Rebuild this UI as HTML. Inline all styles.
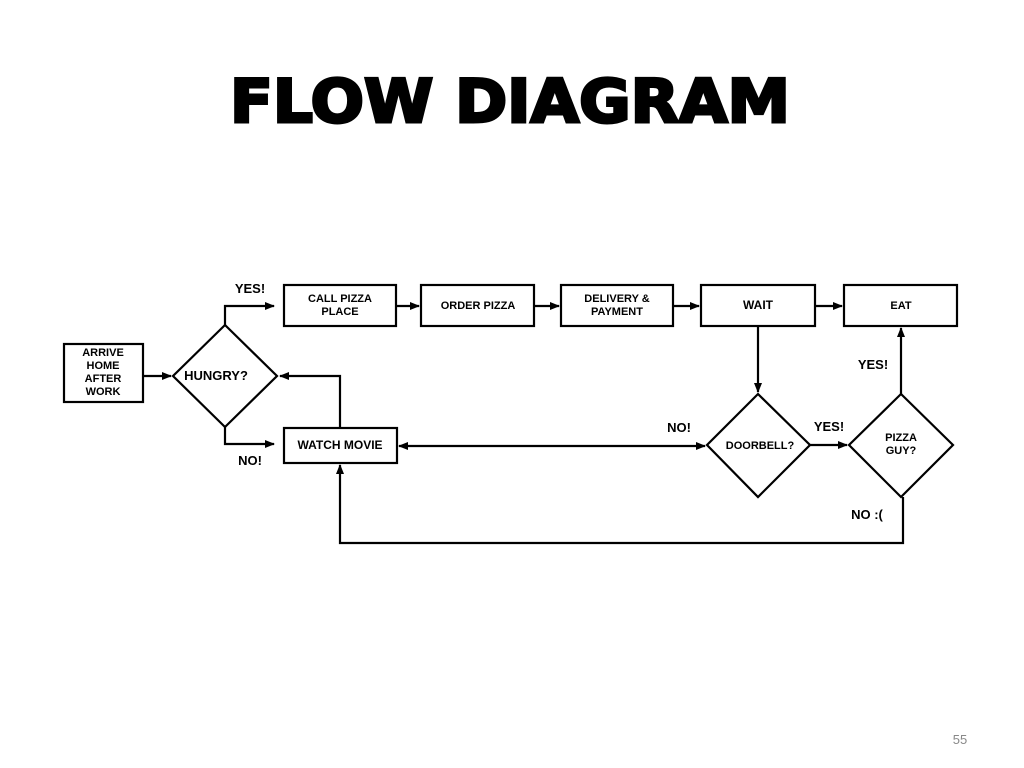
<!DOCTYPE html>
<html><head><meta charset="utf-8"><style>
html,body{margin:0;padding:0;background:#fff;}
svg{display:block}
text{font-family:"Liberation Sans",sans-serif;font-weight:bold;fill:#000}
</style></head><body>
<svg width="1024" height="768" viewBox="0 0 1024 768" xmlns="http://www.w3.org/2000/svg">
<defs><marker id="a" markerWidth="10" markerHeight="8" refX="9" refY="4" orient="auto" markerUnits="userSpaceOnUse"><path d="M0,0 L10,4 L0,8 z" fill="#000"/></marker></defs>
<text x="510" y="122" text-anchor="middle" font-size="60" font-weight="900" style="font-family:'DejaVu Sans',sans-serif;font-weight:bold" textLength="560" lengthAdjust="spacingAndGlyphs" stroke="#000" stroke-width="3">FLOW DIAGRAM</text>
<g fill="none" stroke="#000" stroke-width="2.2">
<rect x="64" y="344" width="79" height="58"/>
<polygon points="225,325 277,376 225,427 173,376"/>
<rect x="284" y="285" width="112" height="41"/>
<rect x="421" y="285" width="113" height="41"/>
<rect x="561" y="285" width="112" height="41"/>
<rect x="701" y="285" width="114" height="41"/>
<rect x="844" y="285" width="113" height="41"/>
<rect x="284" y="428" width="113" height="35"/>
<polygon points="758,394 810,445 758,497 707,445"/>
<polygon points="901,394 953,445 901,497 849,445"/>
<g marker-end="url(#a)">
<line x1="143" y1="376" x2="171" y2="376"/>
<polyline points="225,325 225,306 274,306"/>
<polyline points="225,427 225,444 274,444"/>
<line x1="396" y1="306" x2="419" y2="306"/>
<line x1="534" y1="306" x2="559" y2="306"/>
<line x1="673" y1="306" x2="699" y2="306"/>
<line x1="815" y1="306" x2="842" y2="306"/>
<line x1="758" y1="326" x2="758" y2="392"/>
<line x1="810" y1="445" x2="847" y2="445"/>
<line x1="901" y1="394" x2="901" y2="328"/>
<polyline points="340,428 340,376 280,376"/>
<line x1="500" y1="446" x2="705" y2="446"/>
<line x1="500" y1="446" x2="399" y2="446"/>
<polyline points="903,497 903,543 340,543 340,465"/>
</g>
</g>
<g font-size="11" text-anchor="middle">
<text x="103" y="356">ARRIVE</text><text x="103" y="369">HOME</text><text x="103" y="382">AFTER</text><text x="103" y="395">WORK</text>
<text x="216" y="380" font-size="13">HUNGRY?</text>
<text x="340" y="302">CALL PIZZA</text><text x="340" y="315">PLACE</text>
<text x="478" y="309">ORDER PIZZA</text>
<text x="617" y="302">DELIVERY &amp;</text><text x="617" y="315">PAYMENT</text>
<text x="758" y="309" font-size="12">WAIT</text>
<text x="901" y="309">EAT</text>
<text x="340" y="449" font-size="12">WATCH MOVIE</text>
<text x="760" y="449">DOORBELL?</text>
<text x="901" y="441">PIZZA</text><text x="901" y="454">GUY?</text>
<text x="250" y="293" font-size="13">YES!</text>
<text x="250" y="465" font-size="13">NO!</text>
<text x="679" y="432" font-size="13">NO!</text>
<text x="829" y="431" font-size="13">YES!</text>
<text x="873" y="369" font-size="13">YES!</text>
<text x="867" y="519" font-size="13">NO :(</text>
</g>
<text x="960" y="744" text-anchor="middle" font-size="13" style="font-weight:normal;fill:#888">55</text>
</svg>
</body></html>
